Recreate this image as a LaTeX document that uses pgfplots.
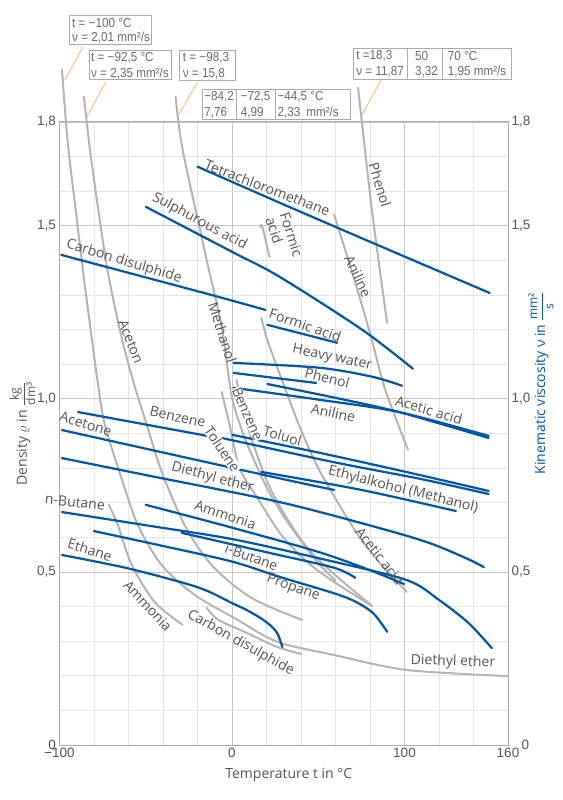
\documentclass[border=0pt]{standalone}
\usepackage{pgfplots}
\pgfplotsset{compat=1.18}
\usepackage{amsmath}
\usepackage{fontspec}
\setmainfont{Open Sans}
\newfontfamily\tickfont{Liberation Sans}
\newfontfamily\boxfont[FakeStretch=0.9]{Liberation Sans}
\usetikzlibrary{calc}
\definecolor{cblue}{HTML}{0055A4}
\definecolor{cgray}{HTML}{B4B4B4}
\definecolor{ctext}{HTML}{555555}
\definecolor{cbox}{HTML}{6A6A6A}
\definecolor{cgrid}{HTML}{E4E4E4}
\definecolor{cgridmaj}{HTML}{C6C6C6}
\definecolor{cframe}{HTML}{ABABAB}
\definecolor{corange}{HTML}{F5C47C}
\tikzset{
  lab/.style={font=\fontsize{14}{15}\selectfont, text=ctext, inner sep=0.5pt},
  bt/.style={font=\boxfont\fontsize{13}{14}\selectfont, text=cbox, inner sep=0pt, anchor=west},
  bx/.style={draw=cframe, line width=0.8pt, fill=white},
  ld/.style={draw=corange, line width=1pt},
  bl/.style={cblue, line width=2.2pt, smooth, tension=0.5, line cap=round},
  gr/.style={cgray, line width=2pt, smooth, tension=0.5, line cap=round},
}
\begin{document}
\begin{tikzpicture}
\begin{axis}[name=ax,
  scale only axis, width=448.5pt, height=623pt,
  xmin=-100, xmax=160, ymin=0, ymax=1.8, clip=false,
  xtick={-100,0,100,160}, xticklabels={−100,0,100,160},
  ytick={0,0.5,1,1.5,1.8}, yticklabels={0\hspace{7pt},{0,5},{1,0},{1,5},{1,8}},
  minor xtick={-80,-60,-40,-20,20,40,60,80,120,140},
  minor ytick={0.1,0.2,0.3,0.4,0.6,0.7,0.8,0.9,1.1,1.2,1.3,1.4,1.6,1.7},
  grid=both,
  major grid style={cgridmaj, line width=0.8pt},
  minor grid style={cgrid, line width=0.8pt},
  axis line style={cframe, line width=1pt},
  tick style={draw=none},
  ticklabel style={font=\tickfont\fontsize{13.5}{14}\selectfont, text=ctext},
  xlabel={Temperature t in °C},
  xlabel style={font=\fontsize{14}{15}\selectfont, text=ctext, at={(axis description cs:0.5,0)}, anchor=center, yshift=-30pt, xshift=5pt},
  ylabel={Density $\varrho$ in {\fontsize{12}{13}\selectfont$\dfrac{\text{kg}}{\text{dm³}}$}},
  ylabel style={font=\fontsize{14}{15}\selectfont, text=ctext, at={(axis description cs:0,0.5)}, anchor=center, rotate=0, yshift=37pt},
]
% ---------- viscosity curves (grey) ----------
\addplot[gr] coordinates {(-98.55,1.951) (-95.38,1.749) (-91.33,1.575) (-84.97,1.315) (-78.03,1.055) (-73.7,0.925) (-64,0.77) (-54.6,0.636) (-40.8,0.520) (-21.7,0.434) (1.4,0.367) (26.3,0.298) (59.2,0.260) (100.9,0.217) (160,0.199)};
\addplot[gr] coordinates {(-85.84,1.873) (-82.37,1.720) (-78.32,1.575) (-72.54,1.382) (-65.0,1.199) (-57.5,1.055) (-49.4,0.925) (-40.8,0.79) (-27.5,0.636) (-11.85,0.520) (11.27,0.425) (40.75,0.361)};
\addplot[gr] coordinates {(-32.7,1.873) (-28.6,1.72) (-14.7,1.402) (-6.1,1.211) (-0.3,1.012) (5,0.92) (10,0.855) (20,0.745) (30,0.66) (40,0.59) (50,0.525) (60,0.475)};
\addplot[gr] coordinates {(2.6,1.055) (6,0.98) (10,0.905) (20,0.765) (30,0.67) (43.6,0.57) (60,0.49) (81.2,0.402)};
\addplot[gr] coordinates {(-6,1.02) (-1.4,0.925) (4.4,0.80) (14.7,0.714) (28.6,0.607) (43.6,0.529) (59.2,0.471) (81.2,0.402)};
\addplot[gr] coordinates {(17,1.234) (20.5,1.17) (30,1.04) (40,0.91) (50,0.80) (62,0.695) (74,0.60) (88,0.512) (101.4,0.442)};
\addplot[gr] coordinates {(-71.4,0.694) (-66.2,0.636) (-58.1,0.520) (-44.8,0.413) (-28.6,0.347)};
\addplot[gr] coordinates {(-14.7,0.396) (-8,0.362) (7.2,0.327) (26.3,0.283) (40.2,0.263)};
\addplot[gr] coordinates {(73.1,1.899) (81,1.55) (89.9,1.22)};
\addplot[gr] coordinates {(59.2,1.532) (70,1.36) (80,1.19) (88,1.04) (96,0.93) (102,0.853)};
\addplot[gr, smooth=false] coordinates {(16.2,1.497) (17.6,1.497) (21.7,1.41)};
% ---------- density curves (blue) ----------
\addplot[bl] coordinates {(-20,1.671) (27.5,1.567) (80,1.454) (149.4,1.306)};
\addplot[bl] coordinates {(-50,1.555) (0,1.425) (27.5,1.353) (75.4,1.200) (104.9,1.087)};
\addplot[bl] coordinates {(-99,1.416) (-14.7,1.304) (19.4,1.257)};
\addplot[bl] coordinates {(20.5,1.214) (61,1.162)};
\addplot[bl] coordinates {(1,1.104) (50.6,1.090) (81.3,1.064) (98.6,1.038)};
\addplot[bl] coordinates {(0.9,1.075) (48.8,1.046)};
\addplot[bl] coordinates {(0.9,1.032) (50,0.998) (96.8,0.962) (148.8,0.893)};
\addplot[bl] coordinates {(20.5,1.043) (60,1.003) (96.8,0.962) (148.8,0.887)};
\addplot[bl] coordinates {(-89.3,0.962) (-14.2,0.893) (-3.2,0.884) (59.2,0.817) (110,0.768) (148.8,0.725)};
\addplot[bl] coordinates {(0.3,0.896) (50,0.845) (100,0.79) (148.8,0.734)};
\addplot[bl] coordinates {(-98.6,0.910) (23.4,0.775) (59.2,0.737)};
\addplot[bl] coordinates {(17,0.789) (75,0.737) (129.8,0.676)};
\addplot[bl] coordinates {(-98.6,0.829) (-50,0.78) (27.5,0.702) (85.3,0.627) (114.2,0.584) (135.6,0.540) (146,0.514)};
\addplot[bl] coordinates {(-98.6,0.673) (-50,0.635) (0,0.595) (50,0.54) (101,0.477) (120,0.419) (137,0.353) (150.6,0.28)};
\addplot[bl] coordinates {(-80,0.618) (-40,0.575) (0,0.53) (27.5,0.486) (60,0.437) (72,0.413) (82,0.38) (90,0.327)};
\addplot[bl] coordinates {(-29.2,0.613) (20,0.557) (59.2,0.512) (71.4,0.483)};
\addplot[bl] coordinates {(-50,0.694) (0,0.628) (50,0.558) (80,0.505) (99.7,0.465)};
\addplot[bl] coordinates {(-98.6,0.549) (-60,0.51) (-20,0.456) (0,0.41) (10,0.386) (20,0.355) (26,0.325) (29.2,0.283)};
% ---------- labels ----------
\node[lab, rotate=-21] at (axis cs:20.5,1.610) {Tetrachloromethane};
\node[lab, rotate=-28] at (axis cs:-18.8,1.512) {Sulphurous acid};
\node[lab, rotate=-17] at (axis cs:-62.7,1.396) {Carbon disulphide};
\node[lab, rotate=-19] at (axis cs:42.5,1.213) {Formic acid};
\node[lab, rotate=-72, align=left] at (axis cs:30.3,1.468) {Formic\\acid};
\node[lab, rotate=-12] at (axis cs:58.1,1.118) {Heavy water};
\node[lab, rotate=-14] at (axis cs:55.2,1.061) {Phenol};
\node[lab, rotate=-12] at (axis cs:58.7,0.960) {Aniline};
\node[lab, rotate=-16] at (axis cs:114.2,0.968) {Acetic acid};
\node[lab, rotate=-12] at (axis cs:-31.5,0.948) {Benzene};
\node[lab, rotate=-56, fill=white] at (axis cs:-5.5,0.855) {Toluene};
\node[lab, rotate=-66, fill=white] at (axis cs:9.0,0.957) {Benzene};
\node[lab, rotate=-16] at (axis cs:29.2,0.893) {Toluol};
\node[lab, rotate=-17] at (axis cs:-84.7,0.928) {Acetone};
\node[lab, rotate=-15] at (axis cs:-11.3,0.772) {Diethyl ether};
\node[lab, rotate=-14] at (axis cs:99.2,0.737) {Ethylalkohol (Methanol)};
\node[lab, rotate=-6] at (axis cs:-91.0,0.702) {n-Butane};
\node[lab, rotate=-18] at (axis cs:-3.8,0.665) {Ammonia};
\node[lab, rotate=-20] at (axis cs:11.3,0.543) {i-Butane};
\node[lab, rotate=-18] at (axis cs:-82.4,0.564) {Ethane};
\node[lab, rotate=-20] at (axis cs:35.5,0.454) {Propane};
\node[lab, rotate=-47] at (axis cs:-48.8,0.402) {Ammonia};
\node[lab, rotate=-29] at (axis cs:5.0,0.295) {Carbon disulphide};
\node[lab, rotate=-2] at (axis cs:128.1,0.240) {Diethyl ether};
\node[lab, rotate=-52] at (axis cs:85.8,0.546) {Acetic acid};
\node[lab, rotate=-68] at (axis cs:-58.6,1.165) {Aceton};
\node[lab, rotate=-72] at (axis cs:-5.5,1.191) {Methanol};
\node[lab, rotate=-73] at (axis cs:85.8,1.618) {Phenol};
\node[lab, rotate=-65] at (axis cs:73.1,1.355) {Aniline};
% ---------- annotation boxes ----------
\draw[ld] (axis cs:-86.42,2.0173) -- (axis cs:-96.82,1.9220);
\draw[ld] (axis cs:-73.12,1.9162) -- (axis cs:-84.10,1.8150);
\draw[ld] (axis cs:-19.94,1.9162) -- (axis cs:-30.92,1.8208);
\draw[ld] (axis cs:86.42,1.9220) -- (axis cs:75.43,1.8208);
\draw[bx] (axis cs:-94.51,2.1069) rectangle (axis cs:-46.53,2.0231);
\node[bt] at (axis cs:-92.77,2.0853) {t = −100 °C};
\node[bt] at (axis cs:-92.77,2.0434) {ν = 2,01 mm²/s};
\draw[bx] (axis cs:-82.95,2.0058) rectangle (axis cs:-34.97,1.9220);
\node[bt] at (axis cs:-81.8,1.9855) {t = −92,5 °C};
\node[bt] at (axis cs:-81.8,1.9393) {ν = 2,35 mm²/s};
\draw[bx] (axis cs:-30.35,2.0058) rectangle (axis cs:2.02,1.9191);
\node[bt] at (axis cs:-28.6,1.9855) {t = −98,3};
\node[bt] at (axis cs:-28.6,1.9393) {ν = 15,8};
\draw[bx] (axis cs:-17.05,1.8931) rectangle (axis cs:68.50,1.8064);
\draw[cframe, line width=0.8pt] (axis cs:2.60,1.8931) -- (axis cs:2.60,1.8064);
\draw[cframe, line width=0.8pt] (axis cs:25.14,1.8931) -- (axis cs:25.14,1.8064);
\node[bt] at (axis cs:-16.2,1.8728) {−84,2};
\node[bt] at (axis cs:-16.2,1.8266) {7,76};
\node[bt] at (axis cs:5.0,1.8728) {−72,5};
\node[bt] at (axis cs:5.0,1.8266) {4,99};
\node[bt] at (axis cs:26.3,1.8728) {−44,5 °C};
\node[bt] at (axis cs:26.3,1.8266) {2,33\hspace{6pt}mm²/s};
\draw[bx] (axis cs:70.23,2.0116) rectangle (axis cs:162.14,1.9220);
\draw[cframe, line width=0.8pt] (axis cs:101.45,2.0116) -- (axis cs:101.45,1.9220);
\draw[cframe, line width=0.8pt] (axis cs:122.25,2.0116) -- (axis cs:122.25,1.9220);
\node[bt] at (axis cs:71.97,1.9913) {t =18,3};
\node[bt] at (axis cs:71.97,1.9451) {ν = 11,87};
\node[bt] at (axis cs:106.0,1.9913) {50};
\node[bt] at (axis cs:106.0,1.9451) {3,32};
\node[bt] at (axis cs:125.0,1.9913) {70 °C};
\node[bt] at (axis cs:125.0,1.9451) {1,95 mm²/s};
\end{axis}
\begin{axis}[
  scale only axis, width=448.5pt, height=623pt,
  xmin=-100, xmax=160, ymin=0, ymax=1.8,
  axis y line*=right, axis x line=none,
  ytick={0,0.5,1,1.5,1.8}, yticklabels={\hspace{10pt}0,{0,5},{1,0},{1,5},{1,8}},
  axis line style={cframe, line width=1pt},
  tick style={draw=none},
  ticklabel style={font=\tickfont\fontsize{13.5}{14}\selectfont, text=ctext},
  ylabel={Kinematic viscosity ν in {\fontsize{12}{13}\selectfont$\dfrac{\text{mm²}}{\text{s}}$}},
  ylabel style={font=\fontsize{14}{15}\selectfont, text=cblue, at={(axis description cs:1,0.581)}, anchor=center, yshift=-33pt},
]
\end{axis}
\pgfresetboundingbox
\path[use as bounding box] ($(ax.south west)+(-59.5pt,-55pt)$) rectangle ($(ax.north east)+(54pt,122pt)$);
\end{tikzpicture}
\end{document}
